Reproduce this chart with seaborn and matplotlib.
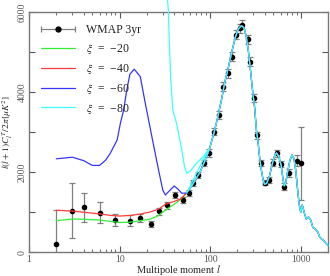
import numpy as np
import pandas as pd
import matplotlib
matplotlib.use("Agg")
import matplotlib.pyplot as plt
import seaborn as sns
from matplotlib.lines import Line2D
from matplotlib.legend_handler import HandlerLine2D, HandlerTuple

# ── WMAP 3yr binned band powers ──────────────────────────────────────────────
wmap_l = [2, 3, 4, 6, 9, 13, 17, 22, 27, 33, 41, 50, 59, 65, 73, 85, 96,
          110, 125, 140, 158, 174, 194, 211, 226, 261, 277, 305, 330, 360,
          400, 451, 491, 542, 607, 656, 749, 905, 1000]
wmap_d = [207, 1040, 1125, 990, 807, 790, 857, 707, 1025, 1170, 1432, 1307,
          1490, 1725, 1932, 2230, 2480, 3015, 3430, 4140, 4475, 4890, 5432,
          5600, 5682, 5325, 4765, 3850, 2920, 2225, 1740, 1807, 2240, 2475,
          2207, 1640, 1975, 2290, 2225]
wmap_err = [850, 690, 365, 270, 150, 140, 110, 80, 85, 80, 75, 70, 75, 80,
            80, 85, 90, 95, 100, 105, 110, 110, 115, 115, 115, 110, 105, 100,
            90, 80, 70, 75, 80, 90, 85, 80, 100, 130, 910]

# ── model curves: low-l parts differ, high-l tail shared ────────────────────
common_l = [55, 65, 77, 88, 98, 110, 120, 133, 145, 160, 175, 190, 205, 220,
            235, 250, 265, 280, 295, 310, 324, 336, 350, 367, 383, 398, 420,
            451, 490, 520, 540, 570, 607, 635, 656, 680, 710, 760, 800, 840,
            880, 920, 960, 1000, 1040, 1090, 1150, 1220, 1290, 1360, 1450,
            1540, 1620, 1700, 1800, 1900, 2000]
common_d = [1480, 1720, 2000, 2300, 2580, 2980, 3330, 3800, 4250, 4650, 5050,
            5380, 5580, 5660, 5620, 5400, 5000, 4500, 4000, 3600, 3050, 2800,
            2400, 2060, 1820, 1700, 1720, 1900, 2250, 2440, 2480, 2400, 2180,
            1850, 1660, 1720, 1970, 2300, 2430, 2350, 2050, 1600, 1200, 1000,
            1180, 1000, 830, 880, 800, 620, 580, 510, 380, 330, 290, 220, 170]

green_l = [2, 3, 4, 6, 8, 10, 13, 17, 22, 26, 32, 40, 47]
green_d = [790, 830, 825, 805, 770, 745, 750, 790, 830, 900, 1050, 1200, 1320]

red_l = [2, 3, 4, 6, 8, 10, 13, 17, 22, 27, 32, 40, 47]
red_d = [1050, 1030, 1000, 960, 920, 905, 920, 955, 1010, 1080, 1200, 1270, 1330]

blue_l = [2, 3, 4, 5, 6, 7, 7.9, 9.4, 10.2, 11.1, 12, 13, 14.5, 16.9, 19.2,
          22.7, 26.9, 30, 32, 36, 40, 44, 48.5]
blue_d = [2335, 2375, 2290, 2170, 2170, 2300, 2475, 2810, 3225, 3560, 4057,
          4450, 4575, 4390, 3725, 2890, 2057, 1550, 1432, 1550, 1657, 1580, 1475]

cyan_l = [33.5, 34.5, 35.4, 36.6, 38.6, 42.5, 48.5, 52, 55, 60, 70, 84, 95]
cyan_d = [6400, 6050, 5225, 4390, 3560, 3225, 2560, 2150, 1975, 2020, 2220,
          2390, 2560]

models = ["$\\xi$  =  \u221220", "$\\xi$  =  \u221240",
          "$\\xi$  =  \u221260", "$\\xi$  =  \u221280"]
colors = ["#33ee33", "#ff3b3b", "#3535ff", "#3cffff"]
low_parts = [(green_l, green_d), (red_l, red_d), (blue_l, blue_d), (cyan_l, cyan_d)]

sns.set_theme(style="ticks")
plt.rcParams.update({
    "font.family": ["Liberation Serif", "DejaVu Serif"],
    "mathtext.fontset": "stix",
    "axes.edgecolor": "#777777",
    "xtick.color": "#555555",
    "ytick.color": "#555555",
    "text.color": "#222222",
})

fig = plt.figure(figsize=(3.3, 2.76), dpi=100)
ax = fig.add_axes([0.088, 0.086, 0.906, 0.870])

ax.errorbar(wmap_l, wmap_d, yerr=wmap_err, fmt="o", color="black",
            ecolor="#808080", elinewidth=0.9, capsize=2.5, capthick=0.9,
            markersize=3.0, zorder=2)

for name, col, (ll, dd) in zip(models, colors, low_parts):
    df = pd.DataFrame({"l": list(ll) + common_l, "D": list(dd) + common_d})
    sns.lineplot(data=df, x="l", y="D", ax=ax, color=col, linewidth=0.9,
                 sort=False, estimator=None, zorder=3)
ax.lines[-1].set_clip_on(False)

ax.set_xscale("log")
ax.set_xlim(1, 2000)
ax.set_ylim(0, 6000)
ax.set_yticks([0, 2000, 4000, 6000])
ax.set_yticks([1000, 3000, 5000], minor=True)
ax.set_xticks([1, 10, 100, 1000])
ax.set_xticklabels(["1", "10", "100", "1000"])
ax.tick_params(which="both", direction="in", top=True, right=True,
               labelsize=7, pad=2)
ax.tick_params(axis="y", pad=1.5)
ax.tick_params(which="major", length=4, width=0.8)
ax.tick_params(which="minor", length=2, width=0.6)
ax.tick_params(axis="y", which="minor", length=4, width=0.8)
for lab in ax.get_yticklabels():
    lab.set_rotation(90)
    lab.set_va("center")
for s in ax.spines.values():
    s.set_linewidth(1.0)

ax.set_xlabel("Multipole moment $l$", fontsize=7.5)
ax.xaxis.set_label_coords(0.5, -0.046)
ax.set_ylabel(r"$l(l+1)C_l^{\,T}/2\pi[\mu K^2]$", fontsize=6.8)
ax.yaxis.set_label_coords(-0.047, 0.5)

# legend
caps = Line2D([0], [0], color="#808080", lw=0.9, marker="|", markersize=5,
              markeredgewidth=0.9)
dot = Line2D([0], [0], color="none", marker="o", markerfacecolor="black",
             markeredgecolor="black", markersize=3.5)
handles = [(caps, dot)] + [Line2D([0], [0], color=c, lw=0.9) for c in colors]
labels = ["WMAP 3yr"] + models
ax.legend(handles, labels, loc="upper left", frameon=False, fontsize=8.5,
          handlelength=2.9, handletextpad=0.9, labelspacing=0.5,
          borderaxespad=0.6,
          handler_map={caps: HandlerLine2D(numpoints=2, marker_pad=0),
                       dot: HandlerLine2D(numpoints=1),
                       tuple: HandlerTuple(ndivide=1, pad=0)})

fig.savefig("out.png", dpi=100)
